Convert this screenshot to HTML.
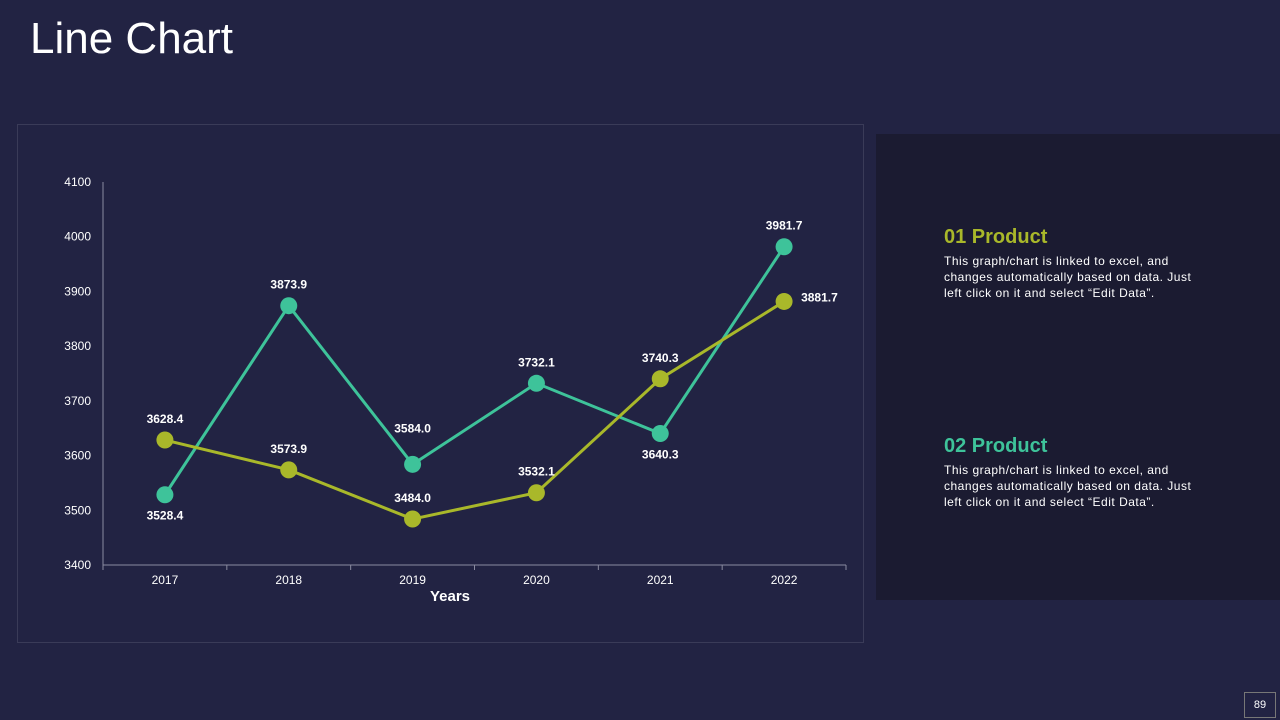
<!DOCTYPE html>
<html><head><meta charset="utf-8"><style>
body{margin:0;width:1280px;height:720px;background:#222343;font-family:"Liberation Sans",sans-serif;overflow:hidden;position:relative}
.title{position:absolute;left:30px;top:14px;font-size:44px;color:#fff}
.box{position:absolute;left:17px;top:124px;width:847px;height:519px;border:1px solid #3a3b58;box-sizing:border-box}
.panel{position:absolute;left:876px;top:134px;width:404px;height:466px;background:#1b1b31}
.h{position:absolute;left:944px;font-size:20px;font-weight:bold}
.p{position:absolute;left:944px;font-size:12px;color:#fff;line-height:16px;white-space:nowrap;letter-spacing:0.5px}
.pg{position:absolute;left:1244px;top:692px;width:32px;height:26px;border:1px solid #777;box-sizing:border-box;color:#fff;font-size:11px;text-align:center;line-height:24px}
</style></head><body>
<div class="title">Line Chart</div>
<div class="box"></div>
<div class="panel"></div>
<div class="h" style="top:226px;color:#a9b82a">01 Product</div>
<div class="p" style="top:253px">This graph/chart is linked to excel, and<br>changes automatically based on data. Just<br>left click on it and select “Edit Data”.</div>
<div class="h" style="top:435px;color:#3ec39a">02 Product</div>
<div class="p" style="top:462px">This graph/chart is linked to excel, and<br>changes automatically based on data. Just<br>left click on it and select “Edit Data”.</div>
<div class="pg">89</div>
<svg id="c" width="1280" height="720" style="position:absolute;left:0;top:0"></svg>
<script>
const categories=["2017","2018","2019","2020","2021","2022"];
const product1=[3628.4,3573.9,3484.0,3532.1,3740.3,3881.7];
const product2=[3528.4,3873.9,3584.0,3732.1,3640.3,3981.7];
const yTicks=[3400,3500,3600,3700,3800,3900,4000,4100];
const p1Pos=["above","above","above","above","above","right"];
const p2Pos=["below","above","high","above","below","above"];
const svg=document.getElementById('c');
const NS="http://www.w3.org/2000/svg";
const x0=103,x1=846,y0=565,y1=182,ymin=3400,ymax=4100;
const step=(x1-x0)/categories.length;
const X=i=>x0+step*(i+0.5);
const Y=v=>y0-(v-ymin)/(ymax-ymin)*(y0-y1);
function mk(t,a,txt){const e=document.createElementNS(NS,t);for(const k in a)e.setAttribute(k,a[k]);if(txt!=null)e.textContent=txt;svg.appendChild(e);return e;}
let e=mk('line',{x1:x0,y1:y1,x2:x0,y2:y0,stroke:'#8a8ba0'});


e=mk('line',{x1:x0,y1:y0,x2:x1,y2:y0,stroke:'#8a8ba0'});


yTicks.forEach(v=>{e=mk('text',{x:91,y:Y(v)+4,'text-anchor':'end',fill:'#fff','font-size':12},v);

});
for(let i=0;i<=categories.length;i++){mk('line',{x1:x0+step*i,y1:y0,x2:x0+step*i,y2:y0+5,stroke:'#8a8ba0'});}
categories.forEach((c,i)=>{e=mk('text',{x:X(i),y:584,'text-anchor':'middle',fill:'#fff','font-size':12},c);

});
e=mk('text',{x:450,y:601,'text-anchor':'middle',fill:'#fff','font-size':15,'font-weight':'bold'},'Years');


function series(vals,pos,col,name){
 e=mk('polyline',{points:vals.map((v,i)=>X(i)+','+Y(v)).join(' '),fill:'none',stroke:col,'stroke-width':3});
 
 
 vals.forEach((v,i)=>{
  e=mk('circle',{cx:X(i),cy:Y(v),r:8.5,fill:col});
  
  
  let lx=X(i),ly=Y(v)-17,a='middle';
  if(pos[i]=='high')ly=Y(v)-32;
  if(pos[i]=='below')ly=Y(v)+25;
  if(pos[i]=='right'){lx=X(i)+17;ly=Y(v)+0;a='start';}
  e=mk('text',{x:lx,y:ly,'text-anchor':a,fill:'#fff','font-size':12,'font-weight':'bold'},v.toFixed(1));
  
  
 });
}
series(product2,p2Pos,'#3ec39a','product-2');
series(product1,p1Pos,'#a9b82a','product-1');
</script>
</body></html>
